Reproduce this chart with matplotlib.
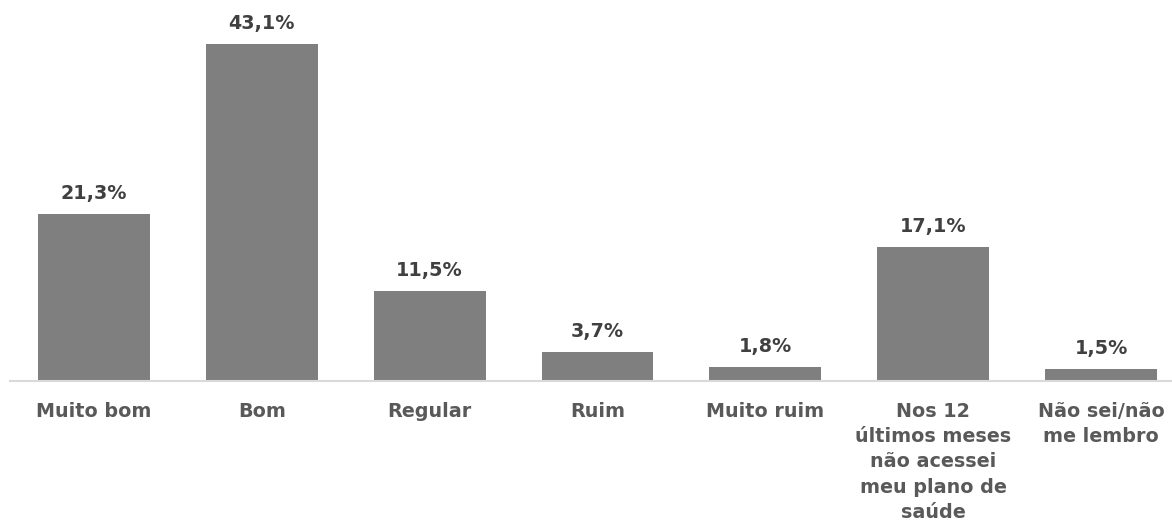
import matplotlib
matplotlib.use("Agg")
import matplotlib.pyplot as plt

categories = ["Muito bom", "Bom", "Regular", "Ruim", "Muito ruim",
              "Nos 12\núltimos meses\nnão acessei\nmeu plano de\nsaúde",
              "Não sei/não\nme lembro"]
values = [21.3, 43.1, 11.5, 3.7, 1.8, 17.1, 1.5]
value_labels = ["21,3%", "43,1%", "11,5%", "3,7%", "1,8%", "17,1%", "1,5%"]

plt.rcParams['font.family'] = ['DejaVu Sans']

fig = plt.figure(figsize=(11.72, 5.23), dpi=100)
ax = fig.add_axes([0.0, 0.2715, 1.0, 0.7285])

x = list(range(len(categories)))
ax.bar(x, values, width=0.667, color="#7f7f7f", zorder=2)

for xi, v, lab in zip(x, values, value_labels):
    ax.annotate(lab, (xi, v), xytext=(0, 8), textcoords="offset points",
                ha="center", va="bottom", fontsize=13.8, fontweight="bold",
                color="#404040")

ax.set_xlim(-0.560, 6.423)
ax.set_ylim(0, 48.72)
ax.set_xticks(x)
ax.set_xticklabels(categories, fontsize=13.8, fontweight="bold", color="#595959",
                   linespacing=1.42, va="top")
ax.tick_params(axis="x", length=0, pad=15)
ax.set_yticks([])
for s in ["top", "right", "left"]:
    ax.spines[s].set_visible(False)
ax.spines["bottom"].set_color("#d9d9d9")
ax.spines["bottom"].set_linewidth(1.5)
ax.spines["bottom"].set_bounds(-0.5, 6.5)

fig.savefig("out.png", dpi=100)
